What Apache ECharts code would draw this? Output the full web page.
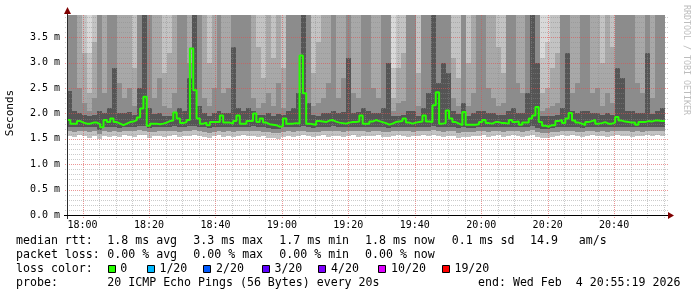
<!DOCTYPE html>
<html><head><meta charset="utf-8">
<script src="https://cdn.jsdelivr.net/npm/echarts@6/dist/echarts.min.js"></script>
<style>html,body{margin:0;padding:0;background:#fff}#c{width:697px;height:297px}</style>
</head><body><div id="c"></div>
<script>
// ---- time frame (minutes since midnight) ----
const START = 17 * 60 + 55 + 19 / 60;   // 17:55:19
const SPAN = 180;                        // 3 hours
const YMAX = 3.94;                       // ms at top of canvas
const MEDIAN_STEP = 1;                   // minutes per median value
const SMOKE_STEP = 1.5;                  // minutes per smoke column

// ---- median RTT (ms), one value per minute ----
const median = [
 1.87,1.80,1.80,1.85,1.82,1.80,1.80,1.82,1.82,1.79,
 1.73,1.87,1.83,1.90,1.83,1.80,1.77,1.80,1.83,1.84,
 1.87,1.92,2.10,2.33,1.76,1.80,1.80,1.79,1.80,1.82,
 1.85,1.86,2.02,1.90,1.81,1.83,1.87,3.28,2.46,1.90,
 1.80,1.82,1.77,1.83,1.83,1.83,1.96,1.82,1.82,1.80,
 1.85,1.96,1.80,1.80,1.85,1.85,2.00,1.83,1.90,1.82,
 1.79,1.78,1.77,1.74,1.75,1.90,1.80,1.80,1.81,1.80,
 3.14,2.40,1.80,1.79,1.78,1.85,1.84,1.83,1.86,1.87,
 1.84,1.82,1.81,1.80,1.82,1.83,1.83,1.84,1.96,1.80,
 1.80,1.84,1.87,1.85,1.83,1.81,1.78,1.80,1.83,1.84,
 1.85,1.90,1.82,1.80,1.82,1.83,1.84,1.96,1.84,1.83,
 2.16,2.42,1.80,1.81,2.06,1.90,1.83,1.80,1.77,2.03,
 1.78,1.78,1.78,1.79,1.83,1.87,1.81,1.80,1.83,1.83,
 1.81,1.81,1.80,1.87,1.83,1.84,1.78,1.82,1.82,1.90,
 1.96,2.13,1.83,1.76,1.74,1.77,1.77,1.85,1.87,1.81,
 1.90,2.01,1.86,1.82,1.80,1.77,1.83,1.85,1.87,1.80,
 1.81,1.83,1.80,1.80,1.82,1.93,1.86,1.84,1.83,1.82,
 1.82,1.78,1.83,1.83,1.85,1.84,1.86,1.86,1.85,1.85
];

// ---- smoke: ping spread per 1.5-minute column (ms); values above the canvas run off the top ----
const smokeLo1 = [
 1.56,1.54,1.57,1.55,1.52,1.56,1.50,1.55,1.53,1.56, 1.54,1.57,1.56,1.53,1.58,1.57,1.52,1.55,1.56,1.54,
 1.55,1.57,1.53,1.56,1.55,1.58,1.56,1.54,1.51,1.55, 1.57,1.54,1.56,1.53,1.55,1.57,1.55,1.56,1.53,1.55,
 1.52,1.51,1.50,1.54,1.56,1.53,1.56,1.57,1.55,1.53, 1.55,1.57,1.54,1.56,1.55,1.53,1.56,1.57,1.54,1.56,
 1.55,1.56,1.57,1.54,1.53,1.55,1.57,1.56,1.54,1.55, 1.56,1.57,1.55,1.58,1.56,1.54,1.56,1.55,1.51,1.54,
 1.53,1.55,1.56,1.57,1.54,1.55,1.57,1.54,1.56,1.57, 1.55,1.54,1.56,1.58,1.53,1.51,1.52,1.54,1.55,1.57,
 1.56,1.57,1.55,1.53,1.56,1.57,1.55,1.56,1.54,1.55, 1.57,1.55,1.56,1.54,1.56,1.55,1.57,1.56,1.57,1.56
];
const smokeLo2 = [
 1.65,1.64,1.66,1.65,1.64,1.65,1.60,1.66,1.64,1.65, 1.63,1.65,1.66,1.65,1.67,1.66,1.63,1.64,1.65,1.66,
 1.65,1.66,1.64,1.65,1.66,1.67,1.65,1.64,1.62,1.64, 1.65,1.64,1.66,1.64,1.65,1.66,1.65,1.66,1.65,1.64,
 1.63,1.62,1.61,1.64,1.65,1.64,1.65,1.66,1.64,1.63, 1.64,1.66,1.65,1.66,1.65,1.64,1.65,1.66,1.65,1.66,
 1.64,1.65,1.66,1.64,1.63,1.65,1.66,1.65,1.66,1.64, 1.65,1.66,1.65,1.67,1.65,1.64,1.66,1.65,1.62,1.64,
 1.63,1.64,1.65,1.66,1.64,1.65,1.66,1.64,1.65,1.66, 1.65,1.64,1.66,1.67,1.63,1.61,1.61,1.63,1.64,1.66,
 1.65,1.66,1.64,1.63,1.65,1.66,1.64,1.65,1.64,1.65, 1.66,1.65,1.65,1.64,1.65,1.64,1.66,1.65,1.66,1.65
];
const smokeLo3 = [
 1.74,1.73,1.74,1.73,1.73,1.74,1.68,1.74,1.73,1.74, 1.72,1.73,1.74,1.74,1.76,1.75,1.72,1.73,1.73,1.74,
 1.74,1.75,1.74,1.73,1.75,1.76,1.74,1.73,1.71,1.73, 1.74,1.73,1.74,1.73,1.73,1.74,1.74,1.75,1.74,1.73,
 1.72,1.70,1.69,1.73,1.74,1.73,1.73,1.75,1.73,1.72, 1.73,1.74,1.74,1.75,1.74,1.73,1.74,1.74,1.74,1.74,
 1.73,1.74,1.74,1.73,1.72,1.73,1.74,1.74,1.74,1.73, 1.74,1.74,1.74,1.76,1.74,1.73,1.74,1.74,1.71,1.73,
 1.72,1.72,1.73,1.74,1.73,1.74,1.74,1.73,1.74,1.74, 1.74,1.73,1.74,1.76,1.72,1.69,1.69,1.71,1.73,1.74,
 1.74,1.74,1.73,1.72,1.73,1.74,1.73,1.74,1.73,1.73, 1.74,1.74,1.74,1.73,1.73,1.73,1.74,1.74,1.74,1.74
];
const smokeHi5 = [
 2.45,2.05,2.00,1.97,1.95,1.97,2.05,2.00,2.10,2.90, 2.00,2.00,2.02,1.97,2.50,4.20,2.10,1.98,2.00,1.96,
 1.96,2.00,2.10,2.05,2.70,4.20,2.15,2.00,1.96,2.00, 2.05,2.00,2.00,3.30,2.10,2.05,2.10,2.05,1.97,1.97,
 2.00,1.96,1.98,1.97,2.05,2.10,2.40,4.20,2.20,1.97, 1.96,2.00,2.00,2.05,2.00,2.02,3.10,2.00,2.02,2.10,
 2.05,2.00,2.00,2.10,3.00,1.95,1.96,1.97,2.05,2.05, 1.96,2.10,2.40,4.20,2.60,3.00,2.80,2.05,1.98,2.20,
 1.96,2.00,2.05,2.05,2.00,2.00,1.97,1.97,2.05,2.10, 2.00,2.00,2.40,4.20,3.00,1.95,1.95,1.96,1.97,2.10,
 3.20,2.05,2.00,2.05,2.05,2.00,2.00,1.97,2.00,1.97, 2.90,2.70,2.05,2.05,2.00,2.00,3.20,1.98,2.05,2.10
];
const smokeHi4 = [
 4.20,4.20,2.50,2.20,2.05,2.30,4.20,2.40,4.20,4.20, 2.60,2.30,2.50,2.15,4.20,4.20,4.20,2.30,2.70,2.15,
 2.10,2.40,4.20,4.20,3.00,4.20,4.20,2.30,2.15,2.50, 4.20,2.40,2.50,4.20,4.20,4.20,4.20,2.30,2.10,2.20,
 2.40,2.15,2.60,2.10,4.20,4.20,4.20,4.20,4.20,2.15, 2.20,2.30,2.60,4.20,2.30,2.70,4.20,2.40,2.30,4.20,
 4.20,2.50,2.30,4.20,4.20,2.05,2.20,2.25,4.20,4.20, 2.15,4.20,4.20,4.20,4.20,4.20,4.20,2.30,2.15,4.20,
 2.15,2.40,4.20,4.20,2.50,2.30,2.15,2.20,4.20,4.20, 2.60,2.40,4.20,4.20,4.20,2.05,2.10,2.15,2.20,4.20,
 4.20,2.40,2.60,4.20,4.20,2.40,2.50,2.15,2.40,2.20, 4.20,4.20,4.20,4.20,2.60,2.40,4.20,2.30,4.20,4.20
];
const smokeHi3 = [
 4.20,4.20,4.20,3.20,2.40,3.40,4.20,4.20,4.20,4.20, 4.20,4.20,4.20,2.90,4.20,4.20,4.20,4.20,4.20,2.80,
 3.20,4.20,4.20,4.20,4.20,4.20,4.20,4.20,3.00,4.20, 4.20,4.20,4.20,4.20,4.20,4.20,4.20,4.20,3.30,2.70,
 4.20,3.10,4.20,2.90,4.20,4.20,4.20,4.20,4.20,2.80, 3.40,4.20,4.20,4.20,4.20,4.20,4.20,4.20,4.20,4.20,
 4.20,4.20,4.20,4.20,4.20,2.30,2.90,3.20,4.20,4.20, 2.80,4.20,4.20,4.20,4.20,4.20,4.20,3.10,2.70,4.20,
 3.00,4.20,4.20,4.20,4.20,4.20,3.30,2.80,4.20,4.20, 4.20,4.20,4.20,4.20,4.20,2.40,2.50,2.90,3.20,4.20,
 4.20,4.20,4.20,4.20,4.20,4.20,4.20,3.00,4.20,3.30, 4.20,4.20,4.20,4.20,4.20,4.20,4.20,4.20,4.20,4.20
];
const smokeHi2 = [
 4.20,4.20,4.20,4.20,3.20,4.20,4.20,4.20,4.20,4.20, 4.20,4.20,4.20,4.20,4.20,4.20,4.20,4.20,4.20,4.20,
 4.20,4.20,4.20,4.20,4.20,4.20,4.20,4.20,4.20,4.20, 4.20,4.20,4.20,4.20,4.20,4.20,4.20,4.20,4.20,4.20,
 4.20,4.20,4.20,4.20,4.20,4.20,4.20,4.20,4.20,4.20, 4.20,4.20,4.20,4.20,4.20,4.20,4.20,4.20,4.20,4.20,
 4.20,4.20,4.20,4.20,4.20,2.90,4.20,4.20,4.20,4.20, 4.20,4.20,4.20,4.20,4.20,4.20,4.20,4.20,4.20,4.20,
 4.20,4.20,4.20,4.20,4.20,4.20,4.20,4.20,4.20,4.20, 4.20,4.20,4.20,4.20,4.20,3.10,3.40,4.20,4.20,4.20,
 4.20,4.20,4.20,4.20,4.20,4.20,4.20,4.20,4.20,4.20, 4.20,4.20,4.20,4.20,4.20,4.20,4.20,4.20,4.20,4.20
];
const smokeHi1 = [
 4.20,4.20,4.20,4.20,4.20,4.20,4.20,4.20,4.20,4.20, 4.20,4.20,4.20,4.20,4.20,4.20,4.20,4.20,4.20,4.20,
 4.20,4.20,4.20,4.20,4.20,4.20,4.20,4.20,4.20,4.20, 4.20,4.20,4.20,4.20,4.20,4.20,4.20,4.20,4.20,4.20,
 4.20,4.20,4.20,4.20,4.20,4.20,4.20,4.20,4.20,4.20, 4.20,4.20,4.20,4.20,4.20,4.20,4.20,4.20,4.20,4.20,
 4.20,4.20,4.20,4.20,4.20,4.20,4.20,4.20,4.20,4.20, 4.20,4.20,4.20,4.20,4.20,4.20,4.20,4.20,4.20,4.20,
 4.20,4.20,4.20,4.20,4.20,4.20,4.20,4.20,4.20,4.20, 4.20,4.20,4.20,4.20,4.20,4.20,4.20,4.20,4.20,4.20,
 4.20,4.20,4.20,4.20,4.20,4.20,4.20,4.20,4.20,4.20, 4.20,4.20,4.20,4.20,4.20,4.20,4.20,4.20,4.20,4.20
];

// ---- legend texts ----
const rttStats   = ['1.8 ms avg', '3.3 ms max', '1.7 ms min', '1.8 ms now', '0.1 ms sd', '14.9   am/s'];
const lossStats  = ['0.00 % avg', '0.00 % max', '0.00 % min', '0.00 % now'];
const lossLabels = ['0', '1/20', '2/20', '3/20', '4/20', '10/20', '19/20'];
const lossColors = ['#26ff00', '#00b8ff', '#0059ff', '#5e00ff', '#7e00ff', '#dd00ff', '#ff0000'];
const probeText  = '20 ICMP Echo Pings (56 Bytes) every 20s';
const endText    = 'end: Wed Feb  4 20:55:19 2026';

// ---- styling ----
const MONO = '"DejaVu Sans Mono", monospace';
// layers from outermost (lightest) to innermost (darkest)
const SMOKE_COLORS = ['#d9d9d9', '#c3c3c3', '#a8a8a8', '#8c8c8c', '#555555'];
const GRID_MIN = 'rgba(140,140,140,0.45)';
const GRID_MAJ = 'rgba(222,80,80,0.6)';
const L = 67, R = 665, T = 15, B = 215;

const smokeData = smokeLo1.map((v, c) => [START + c * SMOKE_STEP,
  smokeLo1[c], smokeLo2[c], smokeLo3[c], smokeHi1[c], smokeHi2[c], smokeHi3[c], smokeHi4[c], smokeHi5[c]]);
const medianData = median.map((v, i) => [START + i * MEDIAN_STEP, v]);
medianData.push([START + SPAN, median[median.length - 1]]);

const vGrid = [];
for (let m = Math.ceil(START / 5) * 5; m < START + SPAN; m += 5) vGrid.push([m, 0, m % 20 === 0 ? 1 : 0]);
const hGrid = [];
for (let k = 1; k * 0.1 < YMAX; k++) hGrid.push([START, +(k * 0.1).toFixed(1), k % 5 === 0 ? 1 : 0]);

const chart = echarts.init(document.getElementById('c'), null, {renderer: 'canvas', width: 697, height: 297});

const graphics = [];
function txt(x, y, s, extra) {
  graphics.push(Object.assign({type: 'text', x: x, y: y, silent: true, z: 100,
    style: Object.assign({text: s, font: '11.6px ' + MONO, fill: '#000', align: 'left', verticalAlign: 'middle'}, extra || {})}));
}
txt(16, 241, 'median rtt:');
[107.3, 193.3, 279.3, 365, 451.7, 530].forEach((x, i) => txt(x, 241, rttStats[i]));
txt(16, 255, 'packet loss:');
[107.3, 193.3, 279.3, 365].forEach((x, i) => txt(x, 255, lossStats[i]));
txt(16, 269, 'loss color:');
[107.5, 146.7, 203.3, 261.7, 318.3, 378.3, 441.7].forEach((x, i) => {
  graphics.push({type: 'rect', silent: true, z: 100, shape: {x: Math.round(x) + 0.5, y: 265.5, width: 7, height: 7},
    style: {fill: lossColors[i], stroke: '#000', lineWidth: 1}});
  txt(x + 12.7, 269, lossLabels[i]);
});
txt(16, 283, 'probe:');
txt(107.3, 283, probeText);
txt(478, 283, endText);
graphics.push({type: 'text', x: 10, y: 113, rotation: Math.PI / 2, silent: true,
  style: {text: 'Seconds', font: '11px ' + MONO, fill: '#000', align: 'center', verticalAlign: 'middle'}});
graphics.push({type: 'text', x: 686.5, y: 5, rotation: -Math.PI / 2, silent: true,
  style: {text: 'RRDTOOL / TOBI OETIKER', font: '8.3px ' + MONO, fill: '#bdbdbd', align: 'left', verticalAlign: 'middle'}});
graphics.push({type: 'line', silent: true, z: 90, shape: {x1: L + 0.5, y1: 12, x2: L + 0.5, y2: B + 4}, style: {stroke: '#2c2c2c', lineWidth: 1}});
graphics.push({type: 'line', silent: true, z: 90, shape: {x1: L - 3, y1: B + 0.5, x2: R + 5, y2: B + 0.5}, style: {stroke: '#000', lineWidth: 1}});
graphics.push({type: 'polygon', silent: true, z: 91, shape: {points: [[L + 0.5, 7], [L - 3, 14], [L + 4, 14]]}, style: {fill: '#7f0000'}});
graphics.push({type: 'polygon', silent: true, z: 91, shape: {points: [[R + 9, B + 0.5], [R + 3, B - 3], [R + 3, B + 4]]}, style: {fill: '#7f0000'}});

function fmtTime(v) {
  const m = Math.round(v);
  if (Math.abs(v - m) > 1e-6 || m % 20 !== 0) return '';
  const h = Math.floor(m / 60), mm = m % 60;
  return (h < 10 ? '0' : '') + h + ':' + (mm < 10 ? '0' : '') + mm;
}

chart.setOption({
  animation: false,
  backgroundColor: '#ffffff',
  grid: {left: L, right: 697 - R, top: T, bottom: 297 - B, containLabel: false},
  xAxis: {
    type: 'value', min: START, max: START + SPAN, splitNumber: 9,
    axisLine: {show: false}, axisTick: {show: false}, splitLine: {show: false},
    axisLabel: {formatter: fmtTime, showMinLabel: false, showMaxLabel: false, fontFamily: 'DejaVu Sans Mono', fontSize: 10, color: '#000', margin: 5}
  },
  yAxis: {
    type: 'value', min: 0, max: YMAX, interval: 0.5,
    axisLine: {show: false}, axisTick: {show: false}, splitLine: {show: false},
    axisLabel: {formatter: v => v.toFixed(1) + ' m', showMaxLabel: false, fontFamily: 'DejaVu Sans Mono', fontSize: 10, color: '#000', margin: 7}
  },
  graphic: graphics,
  series: [
    {
      type: 'custom', z: 1, silent: true, data: smokeData, encode: {x: 0, y: [1, 8]},
      renderItem: function (params, api) {
        const x0 = api.value(0), x1 = x0 + SMOKE_STEP;
        const lo1 = api.value(1), lo2 = api.value(2), lo3 = api.value(3);
        // [low, high] per layer, outermost first
        const layers = [[lo1, api.value(4)], [lo1, api.value(5)], [lo2, api.value(6)], [lo2, api.value(7)], [lo3, api.value(8)]];
        const children = layers.map((lh, k) => {
          const pa = api.coord([x0, Math.min(lh[1], YMAX)]);
          const pb = api.coord([x1, lh[0]]);
          const l = Math.round(pa[0]), r = Math.round(pb[0]);
          const t = Math.round(pa[1]), b = Math.round(pb[1]);
          return {type: 'rect', shape: {x: l, y: t, width: r - l, height: b - t}, style: {fill: SMOKE_COLORS[k]}};
        });
        return {type: 'group', children: children};
      }
    },
    {
      type: 'custom', z: 3, silent: true, data: vGrid, encode: {x: 0, y: 1},
      renderItem: function (params, api) {
        const pTop = api.coord([api.value(0), YMAX]), pBot = api.coord([api.value(0), 0]);
        const x = Math.round(pTop[0]) + 0.5;
        return {type: 'line', shape: {x1: x, y1: Math.round(pTop[1]), x2: x, y2: Math.round(pBot[1]) + 3},
          style: {stroke: api.value(2) ? GRID_MAJ : GRID_MIN, lineWidth: 1, lineDash: [1, 1]}};
      }
    },
    {
      type: 'custom', z: 3, silent: true, data: hGrid, encode: {x: 0, y: 1},
      renderItem: function (params, api) {
        const pl = api.coord([START, api.value(1)]), pr = api.coord([START + SPAN, api.value(1)]);
        const y = Math.round(pl[1]) + 0.5;
        return {type: 'line', shape: {x1: Math.round(pl[0]) - 2, y1: y, x2: Math.round(pr[0]) + 3, y2: y},
          style: {stroke: api.value(2) ? GRID_MAJ : GRID_MIN, lineWidth: 1, lineDash: [1, 1]}};
      }
    },
    {
      type: 'line', z: 5, silent: true, data: medianData, step: 'end', symbol: 'none',
      lineStyle: {color: '#26ff00', width: 2}
    }
  ]
});
</script>
</body></html>
